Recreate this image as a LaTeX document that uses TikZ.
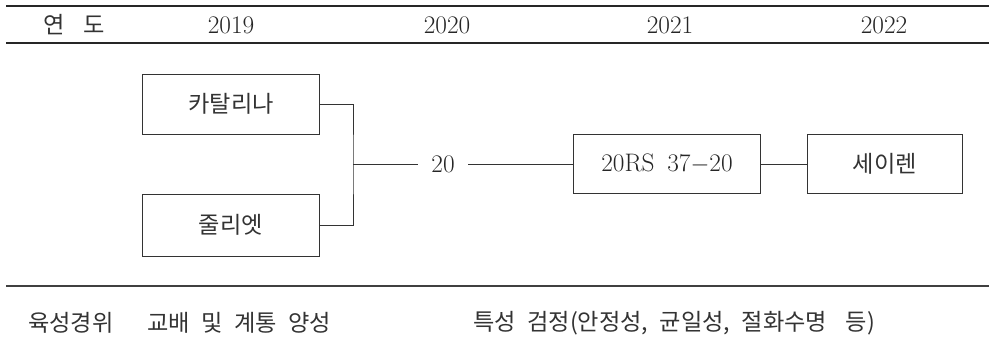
\documentclass[tikz,border=0pt]{standalone}
\usepackage{fontspec}
\newfontfamily\kr[WordSpace=2.2]{Noto Sans CJK KR}
\usetikzlibrary{positioning}

\begin{document}
\begin{tikzpicture}[x=0.025cm,y=-0.025cm,
  kor/.style={font=\kr\fontsize{16.5}{19}\selectfont,text=black!80},
  num/.style={font=\fontsize{18}{20}\selectfont,text=black!85},
  box/.style={draw=black!80,line width=0.6pt,minimum height=1.5cm,inner sep=0pt},
  link/.style={draw=black!80,line width=0.6pt}]
\useasboundingbox (0,0) rectangle (989,347);

%%Rules
\draw[line width=1.8pt,black!85] (6,6) -- (989,6);
\draw[line width=1.1pt,black!85] (6,43) -- (989,43);
\draw[line width=0.9pt,black!75] (6,286) -- (989,286);

%%Header
\node[kor] (yr) at (74,25) {연\hspace{0.8em}도};
\node[num] (y19) at (231,25) {2019};
\node[num] (y20) at (447,25) {2020};
\node[num] (y21) at (670,25) {2021};
\node[num] (y22) at (884,25) {2022};

%%Parents
\node[box,kor,minimum width=4.425cm] (kat) at (231,104) {카탈리나};
\node[box,kor,minimum width=4.425cm,minimum height=1.55cm] (jul) at (231,225) {줄리엣};

%%Lines
\coordinate (join) at (353,164);
\node[num,inner xsep=0.33cm] (cross) at (443,164) {20};
\node[box,num,minimum width=4.675cm,minimum height=1.475cm] (line) at (667,164) {20RS\hspace{0.5em}37$-$20};
\node[box,kor,minimum width=3.875cm,minimum height=1.475cm,right=1.15cm of line] (cult) {세이렌};

\draw[link] (kat.east) -| (join) |- (jul.east);
\draw[link] (join) -- (cross.west);
\draw[link] (cross.east) -- (line.west);
\draw[link] (line.east) -- (cult.west);

%%Footer
\node[kor,anchor=west,inner sep=0pt] (hist) at (28,323) {육성경위};
\node[kor,anchor=west,inner sep=0pt] (cross2) at (147,323) {교배 및 계통 양성};
\node[kor,anchor=west,inner sep=0pt] (test) at (473,323) {특성 검정(안정성, 균일성, 절화수명\hspace{0.8em}등)};
\end{tikzpicture}
\end{document}
